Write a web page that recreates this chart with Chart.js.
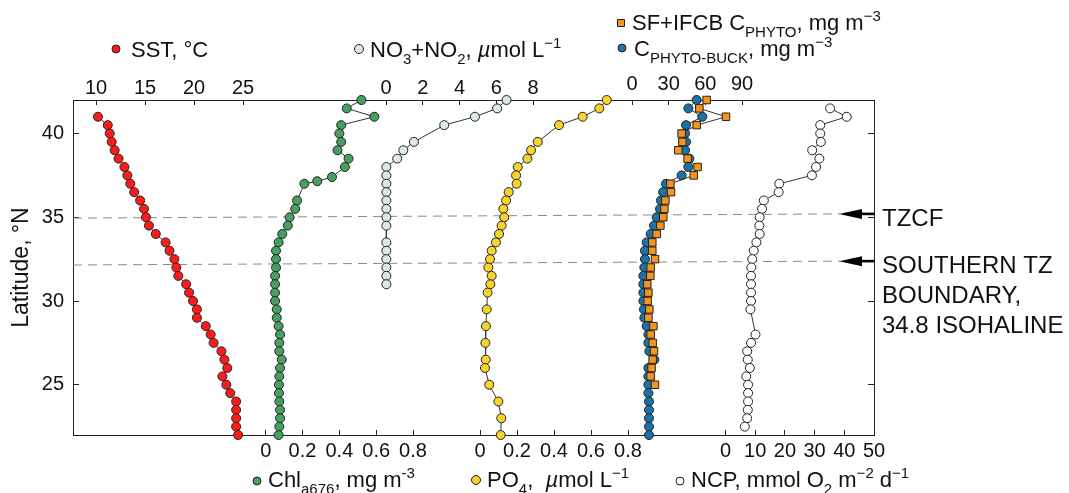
<!DOCTYPE html>
<html><head><meta charset="utf-8">
<script src="https://cdn.jsdelivr.net/npm/chart.js@4/dist/chart.umd.min.js"></script>
<style>html,body{margin:0;padding:0;background:#fff;}#wrap{width:1069px;height:493px;position:relative;}</style>
</head><body><div id="wrap"><canvas id="c"></canvas></div>
<script>
// ---------------- DATA ----------------
const latTicks = [25, 30, 35, 40];
const sstTicks = [10, 15, 20, 25];
const no3Ticks = [0, 2, 4, 6, 8];
const cphytoTicks = [0, 30, 60, 90];
const chlTicks = [0, 0.2, 0.4, 0.6, 0.8];
const po4Ticks = [0, 0.2, 0.4, 0.6, 0.8];
const ncpTicks = [0, 10, 20, 30, 40, 50];

const sstLat = [41,40.5,40,39.5,39,38.5,38,37.5,37,36.5,36,35.5,35,34.5,34,33.5,33,32.5,32,31.5,31,30.5,30,29.5,29,28.5,28,27.5,27,26.5,26,25.5,25,24.5,24,23.5,23,22.5,22];
const sstVal = [10.2,11.2,11.4,11.6,11.9,12.3,12.9,13.2,13.5,13.9,14.5,14.9,15.1,15.4,16.1,17.1,17.5,18.0,18.2,18.4,19.2,19.5,19.9,20.3,20.3,21.2,21.7,22.0,22.8,23.1,23.4,22.9,23.3,23.7,24.3,24.3,24.3,24.3,24.5];

const chlLat = [42,41.5,41,40.5,40,39.5,39,38.5,38,37.4,37.15,37,36,35.5,35,34.5,34,33.5,33,32.5,32,31.5,31,30.5,30,29.5,29,28.5,28,27.5,27,26.5,26,25.5,25,24.5,24,23.5,23,22.5,22];
const chlVal = [0.52,0.44,0.59,0.41,0.40,0.41,0.39,0.45,0.43,0.36,0.28,0.21,0.17,0.16,0.13,0.12,0.09,0.07,0.056,0.056,0.056,0.051,0.051,0.051,0.051,0.06,0.06,0.07,0.078,0.074,0.074,0.087,0.078,0.074,0.072,0.072,0.074,0.078,0.078,0.074,0.07];

const no3Lat = [42,41.5,41,40.5,39.5,39,38.5,38,37.5,37,36.5,36,35.5,35,34.5,33.5,33,32.5,32,31.5,31];
const no3Val = [6.56,6.05,4.84,3.17,1.52,0.94,0.61,0.02,0.02,0.02,0.02,0.02,0.02,0.02,0.02,0.02,0.02,0.02,0.02,0.02,0.02];

const po4Lat = [42,41.5,41,40.5,39.5,39,38.5,38,37.5,37,36.5,36,35.5,35,34.5,34,33.5,33,32.5,32,31.5,31,30.5,29.5,28.5,27.5,26.5,26,25,24,23,22];
const po4Val = [0.685,0.645,0.555,0.427,0.312,0.276,0.256,0.204,0.195,0.198,0.155,0.141,0.126,0.131,0.117,0.103,0.086,0.063,0.054,0.045,0.063,0.056,0.041,0.036,0.032,0.029,0.031,0.027,0.05,0.099,0.115,0.112];

const sfLat = [42,41.5,41,40.5,40,39.5,39,38.5,38,37.5,37,36.5,36,35.5,35,34.5,34,33.5,33,32.5,32,31.5,31,30.5,30,29.5,29,28.5,28,27.5,27,26.5,26,25.5,25];
const sfVal = [61.1,55.1,76.9,52.9,40.6,41.2,37.9,45.5,53.7,50.5,31.4,31.9,27.3,26.5,25.6,23.2,20.2,16.6,16.6,18.8,15.3,15.0,12.5,13.4,12.8,14.2,13.4,17.5,15.3,16.9,18.0,16.9,16.0,15.3,18.8];

const buckLat = [42,41.5,41,40.5,40,39.5,39,38.5,38,37.5,37,36.5,36,35.5,35,34.5,34,33.5,33,32.5,32,31.5,31,30.5,30,29.5,29,28.5,28,27.5,27,26.5,26,25.5,25,24.5,24,23.5,23,22.5,22];
const buckVal = [52.9,46.1,57.5,44.2,43.4,44.2,43.4,46.9,46.1,40.6,27.8,25.5,23.7,22.9,20.2,18.0,15.3,12.0,10.6,10.6,10.1,9.3,9.3,9.3,9.3,9.8,10.1,12.0,13.4,13.4,14.2,18.3,13.4,13.4,13.4,13.4,13.9,13.9,13.9,13.9,13.9];

const ncpLat = [41.5,41,40.5,40,39.5,39,38.5,38,37.5,37,36.5,36,35.5,35,34.5,34,33.5,33,32.5,32,31.5,31,30.5,30,29.5,28,27.5,27,26.5,26,25.5,25,24.5,24,23.5,23,22.5];
const ncpVal = [35.2,40.8,31.9,31.9,32.1,29.2,31.6,30.5,29.1,18.1,17.9,12.9,12.3,11.5,11.4,11.5,10.4,9.5,9.0,8.7,8.6,8.6,8.6,8.6,8.4,10.1,8.6,7.3,7.5,8.2,7.0,7.6,7.6,7.6,7.5,7.3,6.5];

// frontal lines: [latitude at left edge, latitude at arrow]
const tzcfLat = [34.95, 35.2];
const southLat = [32.15, 32.38];

// ---------------- LAYOUT ----------------
const FONT = '"Liberation Sans", Arial, Helvetica, sans-serif';
Chart.defaults.font.family = FONT;
const PL = 73, PR = 874;
function span(v0, p0, v1, p1) {
  const k = (v1 - v0) / (p1 - p0);
  return { min: v0 + (PL - p0) * k, max: v0 + (PR - p0) * k };
}
function noClip(s) { s._computeLabelArea = () => undefined; }
function xAxis(pos, tickVals, rng, pad) {
  return {
    type: 'linear', position: pos, min: rng.min, max: rng.max, bounds: 'data',
    afterBuildTicks: s => { s.ticks = tickVals.map(v => ({ value: v })); },
    afterFit: s => { s.height = 0; noClip(s); },
    ticks: { autoSkip: false, maxRotation: 0, minRotation: 0, padding: pad, color: '#111',
      font: { family: FONT, size: 20 }, callback: v => String(+(+v).toFixed(2)) },
    grid: { display: true, drawOnChartArea: false, drawTicks: true, tickLength: -5, tickColor: '#222', tickWidth: 1 },
    border: { display: true, color: '#222', width: 1 }
  };
}
function yAxis(pos, showLabels) {
  return {
    type: 'linear', position: pos, min: 22, max: 42, bounds: 'data',
    afterBuildTicks: s => { s.ticks = latTicks.map(v => ({ value: v })); },
    afterFit: s => { s.width = showLabels ? PL : 0; },
    ticks: { display: showLabels, padding: 15, color: '#111', font: { family: FONT, size: 20 } },
    title: { display: showLabels, text: 'Latitude, °N', color: '#111', font: { family: FONT, size: 23 }, padding: { top: 8, bottom: 0 } },
    grid: { display: true, drawOnChartArea: false, drawTicks: true, tickLength: -6, tickColor: '#222', tickWidth: 1 },
    border: { display: true, color: '#222', width: 1 }
  };
}
function pts(lat, val) { return lat.map((l, i) => ({ x: val[i], y: l })); }
function ds(label, lat, val, axis, color, style, r) {
  return {
    label, data: pts(lat, val), xAxisID: axis, yAxisID: 'y', showLine: true,
    borderColor: '#333', borderWidth: 1, backgroundColor: color,
    pointBackgroundColor: color, pointBorderColor: '#222', pointBorderWidth: 1,
    pointStyle: style, pointRadius: r, pointHoverRadius: r, clip: false
  };
}

function rich(ctx, x, y, parts, size) {
  let cx = x;
  for (const [t, m] of parts) {
    let fs = size, dy = 0, st = '';
    if (m === 'sub') { fs = Math.round(size * 0.66); dy = size * 0.3; }
    else if (m === 'sup') { fs = Math.round(size * 0.66); dy = -size * 0.42; }
    else if (m === 'i') { st = 'italic '; }
    ctx.font = st + fs + 'px ' + FONT;
    ctx.fillText(t, cx, y + dy);
    cx += ctx.measureText(t).width;
  }
}
function marker(ctx, x, y, style, color, r) {
  ctx.save();
  ctx.fillStyle = color; ctx.strokeStyle = '#222'; ctx.lineWidth = 1;
  ctx.beginPath();
  if (style === 'rect') ctx.rect(x - r, y - r, 2 * r, 2 * r);
  else ctx.arc(x, y, r, 0, Math.PI * 2);
  ctx.fill(); ctx.stroke();
  ctx.restore();
}

const C = { sst: '#ff1a1a', chl: '#48a060', no3: '#d9ebe0', po4: '#f8d42a', buck: '#1b72a6', sf: '#f7941d', ncp: '#ffffff' };

const legends = [
  { mx: 116, my: 49, tx: 131, by: 57, style: 'circle', color: C.sst, r: 4, parts: [['SST, °C', '']] },
  { mx: 359, my: 49, tx: 370, by: 57, style: 'circle', color: C.no3, r: 4.5, parts: [['NO', ''], ['3', 'sub'], ['+NO', ''], ['2', 'sub'], [', ', ''], ['µ', 'i'], ['mol L', ''], ['−1', 'sup']] },
  { mx: 621, my: 23, tx: 632, by: 30, style: 'rect', color: C.sf, r: 3.5, parts: [['SF+IFCB C', ''], ['PHYTO', 'sub'], [', mg m', ''], ['−3', 'sup']] },
  { mx: 622, my: 48, tx: 634, by: 56, style: 'circle', color: C.buck, r: 4, parts: [['C', ''], ['PHYTO-BUCK', 'sub'], [', mg m', ''], ['−3', 'sup']] },
  { mx: 257, my: 481, tx: 268, by: 487, style: 'circle', color: C.chl, r: 4, parts: [['Chl', ''], ['a676', 'sub'], [', mg m', ''], ['-3', 'sup']] },
  { mx: 476, my: 480, tx: 487, by: 487, style: 'circle', color: C.po4, r: 4.5, parts: [['PO', ''], ['4', 'sub'], [',  ', ''], ['µ', 'i'], ['mol L', ''], ['−1', 'sup']] },
  { mx: 680, my: 481, tx: 691, by: 487, style: 'circle', color: C.ncp, r: 4, parts: [['NCP, mmol O', ''], ['2', 'sub'], [' m', ''], ['−2', 'sup'], [' d', ''], ['−1', 'sup']] }
];

const deco = {
  id: 'deco',
  beforeDatasetsDraw(chart) {
    const ctx = chart.ctx, ys = chart.scales.y, ca = chart.chartArea;
    ctx.save();
    ctx.setLineDash([9, 6]); ctx.strokeStyle = '#8a8a8a'; ctx.lineWidth = 1;
    for (const L of [tzcfLat, southLat]) {
      ctx.beginPath();
      ctx.moveTo(ca.left, ys.getPixelForValue(L[0]));
      ctx.lineTo(840, ys.getPixelForValue(L[1]));
      ctx.stroke();
    }
    ctx.restore();
  },
  afterDraw(chart) {
    const ctx = chart.ctx, ys = chart.scales.y;
    ctx.save();
    ctx.fillStyle = '#000';
    for (const L of [tzcfLat, southLat]) {
      const y = ys.getPixelForValue(L[1]);
      ctx.beginPath();
      ctx.moveTo(839, y); ctx.lineTo(862, y - 5); ctx.lineTo(862, y + 5); ctx.closePath(); ctx.fill();
      ctx.fillRect(860, y - 1.3, 15, 2.6);
    }
    ctx.fillStyle = '#111'; ctx.textBaseline = 'alphabetic'; ctx.textAlign = 'left';
    ctx.font = '24px ' + FONT;
    ctx.fillText('TZCF', 882, 226);
    ctx.fillText('SOUTHERN TZ', 882, 272.5);
    ctx.fillText('BOUNDARY,', 882, 302.5);
    ctx.fillText('34.8 ISOHALINE', 882, 332.5);
    for (const lg of legends) {
      marker(ctx, lg.mx, lg.my, lg.style, lg.color, lg.r);
      ctx.fillStyle = '#111';
      rich(ctx, lg.tx, lg.by, lg.parts, 22);
    }
    ctx.restore();
  }
};

new Chart(document.getElementById('c'), {
  type: 'scatter',
  data: {
    datasets: [
      ds('SST', sstLat, sstVal, 'xSST', C.sst, 'circle', 4.5),
      ds('Chl', chlLat, chlVal, 'xChl', C.chl, 'circle', 4.5),
      ds('NO3+NO2', no3Lat, no3Val, 'xNO3', C.no3, 'circle', 4.5),
      ds('PO4', po4Lat, po4Val, 'xPO4', C.po4, 'circle', 4.5),
      ds('SF+IFCB', sfLat, sfVal, 'xC', C.sf, 'rect', 5.3),
      ds('BUCK', buckLat, buckVal, 'xC', C.buck, 'circle', 4.5),
      ds('NCP', ncpLat, ncpVal, 'xNCP', C.ncp, 'circle', 4.5)
    ]
  },
  options: {
    responsive: true, maintainAspectRatio: false, animation: false, devicePixelRatio: 1,
    events: [],
    layout: { padding: { left: 0, top: 100, right: 1069 - PR, bottom: 493 - 435 } },
    plugins: { legend: { display: false }, tooltip: { enabled: false }, title: { display: false } },
    scales: {
      xSST: xAxis('top', sstTicks, span(10, 96, 25, 243), 4.5),
      xNO3: xAxis('top', no3Ticks, span(0, 386, 8, 533), 4.5),
      xC: xAxis('top', cphytoTicks, span(0, 632, 90, 742), 9),
      xChl: xAxis('bottom', chlTicks, span(0, 265.7, 0.8, 413), 9),
      xPO4: xAxis('bottom', po4Ticks, span(0, 480, 0.8, 628), 9),
      xNCP: xAxis('bottom', ncpTicks, span(0, 725.5, 50, 874), 9),
      y: yAxis('left', true),
      y2: yAxis('right', false)
    }
  },
  plugins: [deco]
});
</script></body></html>
